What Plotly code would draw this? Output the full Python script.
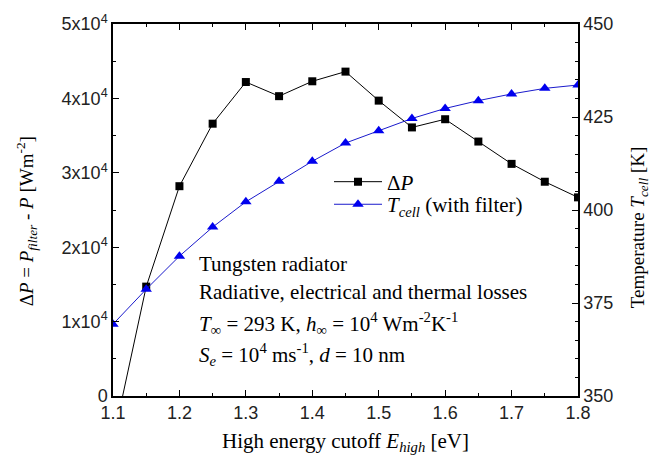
import plotly.graph_objects as go

# high energy cutoff [eV]
e_high = [1.10, 1.15, 1.20, 1.25, 1.30, 1.35, 1.40, 1.45, 1.50, 1.55, 1.60, 1.65, 1.70, 1.75, 1.80]
# power difference [W/m^2] (first point lies below the axis)
delta_p = [-6000, 14700, 28200, 36600, 42200, 40300, 42300, 43600, 39700, 36100, 37200, 34200, 31200, 28800, 26700]
# cell temperature with filter [K]
t_cell = [369.3, 378.7, 387.6, 395.4, 402.2, 407.7, 413.1, 418.0, 421.3, 424.6, 427.3, 429.4, 431.2, 432.7, 433.6]

left_tickvals = [0, 10000, 20000, 30000, 40000, 50000]
left_ticktext = ['0', '1x10<sup>4</sup>', '2x10<sup>4</sup>', '3x10<sup>4</sup>',
                 '4x10<sup>4</sup>', '5x10<sup>4</sup>']

SANS = 'Liberation Sans, Arial, sans-serif'
SERIF = 'Liberation Serif, Times New Roman, serif'
TITLE_FONT = dict(family=SERIF, size=21, color='black')
YTITLE_FONT = dict(family=SERIF, size=19, color='black')

# plot area in pixels, used to place the free text
L, R, T, B = 113, 578, 17, 396


def px(xp):
    return (xp - L) / (R - L)


def py(yp):
    return (B - yp) / (B - T)


fig = go.Figure()
fig.add_trace(go.Scatter(
    x=e_high, y=delta_p, mode='lines+markers', name='Δ<i>P</i>',
    line=dict(color='black', width=1),
    marker=dict(symbol='square', size=8, color='black'),
    legend='legend',
))
fig.add_trace(go.Scatter(
    x=e_high, y=t_cell, mode='lines+markers', yaxis='y2',
    name='<i>T</i><sub><i>cell</i></sub> (with filter)',
    line=dict(color='#1a1acc', width=1),
    marker=dict(symbol='triangle-up', size=10, color='#0000ee'),
    legend='legend2',
))

axis_common = dict(
    showline=True, linecolor='black', linewidth=1.5,
    ticks='inside', ticklen=6, tickwidth=1.2, tickcolor='black',
    showgrid=False, zeroline=False,
    tickfont=dict(family=SANS, size=18, color='#222222'),
)

legend_common = dict(
    x=px(329), xanchor='left', yanchor='middle', itemwidth=48,
    bgcolor='rgba(0,0,0,0)', font=TITLE_FONT,
)

fig.update_layout(
    width=650, height=467,
    margin=dict(l=L, r=650 - R, t=T, b=467 - B),
    paper_bgcolor='white', plot_bgcolor='white',
    xaxis=dict(
        range=[1.1, 1.8], tickvals=[1.1, 1.2, 1.3, 1.4, 1.5, 1.6, 1.7, 1.8],
        ticktext=['1.1', '1.2', '1.3', '1.4', '1.5', '1.6', '1.7', '1.8'],
        minor=dict(dtick=0.05, ticks='inside', ticklen=3, tickcolor='black'),
        mirror='ticks',
        title=dict(text='High energy cutoff <i>E</i><sub><i>high</i></sub> [eV]',
                   font=TITLE_FONT, standoff=11),
        **axis_common,
    ),
    yaxis=dict(
        range=[0, 50000], tickvals=left_tickvals, ticktext=left_ticktext,
        minor=dict(dtick=5000, ticks='inside', ticklen=3, tickcolor='black'),
        **axis_common,
    ),
    yaxis2=dict(
        range=[350, 450], overlaying='y', side='right', dtick=25,
        minor=dict(dtick=5, ticks='inside', ticklen=3, tickcolor='black'),
        **axis_common,
    ),
    legend=dict(y=py(178), **legend_common),
    legend2=dict(y=py(201), **legend_common),
    showlegend=True,
)

# y axis titles as free text so they can sit where the reference has them
fig.add_annotation(
    x=px(26), y=py(218), xref='paper', yref='paper', textangle=-90,
    xanchor='center', yanchor='middle', showarrow=False, font=YTITLE_FONT,
    text='Δ<i>P</i> = <i>P</i><sub><i>filter</i></sub> - <i>P</i> [Wm<sup>-2</sup>]',
)
fig.add_annotation(
    x=px(639), y=py(225), xref='paper', yref='paper', textangle=-90,
    xanchor='center', yanchor='middle', showarrow=False, font=YTITLE_FONT,
    text='Temperature <i>T</i><sub><i>cell</i></sub> [K]',
)

notes = [
    ('Tungsten radiator', 262),
    ('Radiative, electrical and thermal losses', 290),
    ('<i>T</i><sub>∞</sub> = 293 K, <i>h</i><sub>∞</sub> = 10<sup>4</sup> Wm<sup>-2</sup>K<sup>-1</sup>', 322),
    ('<i>S</i><sub><i>e</i></sub> = 10<sup>4</sup> ms<sup>-1</sup>, <i>d</i> = 10 nm', 354),
]
for text, ypx in notes:
    fig.add_annotation(
        x=px(197), y=py(ypx), xref='paper', yref='paper',
        xanchor='left', yanchor='middle', showarrow=False, text=text,
        font=TITLE_FONT,
    )

# drop the browser's default body margin so the figure starts at the window corner
fig.write_html('out.html', config={'displayModeBar': False},
               post_script="document.body.style.margin = '0px';")
